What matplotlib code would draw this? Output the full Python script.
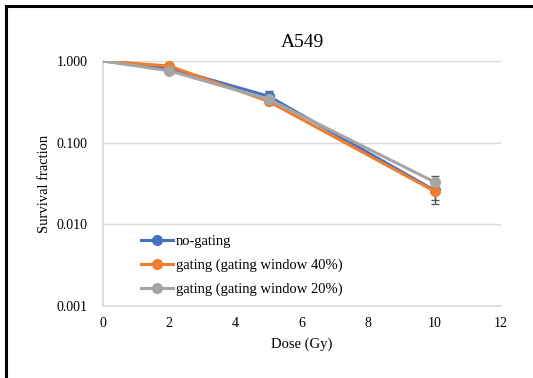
import matplotlib.pyplot as plt
from matplotlib.lines import Line2D

plt.rcParams['font.family'] = ['Liberation Serif', 'DejaVu Serif']

dose = [0, 2, 5, 10]
no_gating = [1.0, 0.82, 0.37, 0.026]
no_gating_err = [0.0, 0.04, 0.06, 0.006]
gating_40 = [1.0, 0.87, 0.32, 0.0255]
gating_40_err = [0.0, 0.05, 0.03, 0.0077]
gating_20 = [1.0, 0.76, 0.34, 0.033]
gating_20_err = [0.0, 0.03, 0.04, 0.0065]

labels = ["no-gating", "gating (gating window 40%)", "gating (gating window 20%)"]
colors = ["#4472C4", "#ED7D31", "#A5A5A5"]

fig = plt.figure(figsize=(5.33, 3.78), dpi=100)
ax = fig.add_axes([0.1932, 0.1905, 0.7467, 0.648])

series = [(no_gating, no_gating_err), (gating_40, gating_40_err), (gating_20, gating_20_err)]
for (vals, err), c, lab in zip(series, colors, labels):
    ax.errorbar(dose, vals, yerr=err, color=c, lw=2.2, marker='o', ms=7,
                markevery=[1, 2, 3],
                ecolor='#595959', elinewidth=1, capsize=3, capthick=1,
                label=lab, zorder=3)

ax.set_yscale('log')
ax.set_ylim(0.001, 1.0)
ax.set_xlim(0, 12)
ax.set_xticks(range(0, 13, 2))
ax.set_yticks([0.001, 0.01, 0.1, 1.0])
ax.set_yticklabels(["0.001", "0.010", "0.100", "1.000"])
ax.minorticks_off()
ax.tick_params(length=0, labelsize=10)
ax.tick_params(axis='x', pad=8)
ax.tick_params(axis='y', pad=11)
ax.yaxis.grid(True, color='#d9d9d9', lw=1)
ax.set_axisbelow(True)
for s in ['top', 'right']:
    ax.spines[s].set_visible(False)
for s in ['left', 'bottom']:
    ax.spines[s].set_color('#d9d9d9')
    ax.spines[s].set_linewidth(1.2)

ax.set_title("A549", fontsize=14, pad=10)
ax.set_xlabel("Dose (Gy)", fontsize=10.5, labelpad=5)
ax.set_ylabel("Survival fraction", fontsize=10.5, labelpad=4)

handles = [Line2D([], [], color=c, lw=2.2, marker='o', ms=7) for c in colors]
ax.legend(handles, labels, loc='lower left', bbox_to_anchor=(0.08, 0.015),
          frameon=False, fontsize=10.5, handlelength=2.2, handletextpad=0.2,
          labelspacing=0.75, borderaxespad=0)

# frame lines on the top and left edges
fig.add_artist(Line2D([0.0105, 0.0105], [0, 0.985], color='black', lw=2.2))
fig.add_artist(Line2D([0.0105, 1.0], [0.985, 0.985], color='black', lw=2.2))

fig.savefig("out.png", dpi=100)
